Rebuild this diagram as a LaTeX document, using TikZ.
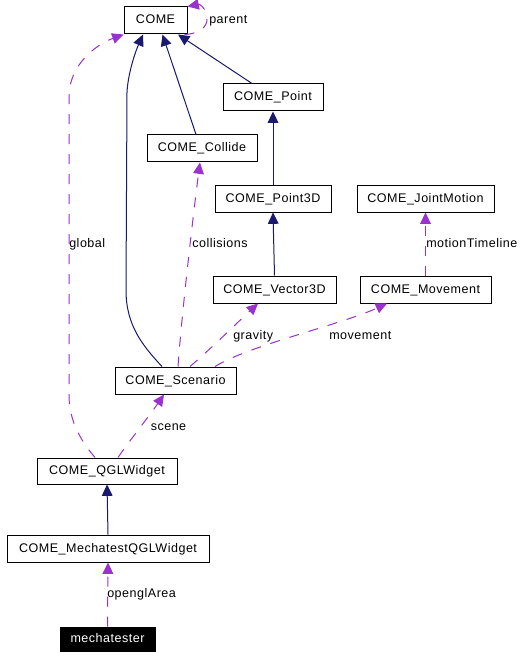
\documentclass[tikz,border=0pt]{standalone}
\usepackage{fontspec}
\setmainfont{Liberation Sans}[LetterSpace=4]
\usetikzlibrary{arrows.meta,calc}
\definecolor{inhcol}{HTML}{191970}
\definecolor{usecol}{HTML}{9A32CD}
\begin{document}
\begin{tikzpicture}[x=0.75pt,y=-0.75pt,
  every node/.style={font=\fontsize{9.4pt}{11pt}\selectfont},
  cls/.style n args={2}{draw=black, line width=0.75pt, fill=white, inner sep=0pt,
    minimum width=#1*0.75pt, minimum height=#2*0.75pt, text height=6.75pt, text depth=1.5pt},
  inh/.style={draw=inhcol, line width=0.75pt, -{Triangle[length=8.5pt,width=8pt]}},
  use/.style={draw=usecol, line width=0.75pt, dash pattern=on 7.5pt off 7.5pt,
    -{Triangle[length=8.5pt,width=8pt]}},
  lbl/.style={anchor=base west, inner sep=0pt}]
\useasboundingbox (0,0) rectangle (529,659);
\fill[white] (0,0) rectangle (529,659);
% nodes
\node[cls={63}{27}] (come) at (155.5,20.5) {COME};
\node[cls={100}{27}] (pt) at (273,97.5) {COME\_Point};
\node[cls={110}{27}] (col) at (202,148.5) {COME\_Collide};
\node[cls={116}{26}] (p3) at (273,199) {COME\_Point3D};
\node[cls={137}{26}] (jm) at (425.5,199) {COME\_JointMotion};
\node[cls={123}{27}] (vec) at (274.5,289.5) {COME\_Vector3D};
\node[cls={131}{27}] (mov) at (425.5,289.5) {COME\_Movement};
\node[cls={121}{27}] (scen) at (175.5,380.5) {COME\_Scenario};
\node[cls={140}{26}] (qgl) at (107,471) {COME\_QGLWidget};
\node[cls={202}{27}] (mech) at (108,548.5) {COME\_MechatestQGLWidget};
\node[cls={95}{24}, fill=black, text=white] (mt) at (107.5,639) {mechatester};
% inheritance
\draw[inh] ($(pt.north)+(-21,0)$) -- ($(come.south)+(22.5,0)$);
\draw[inh] ($(col.north)+(-6,0)$) -- ($(come.south)+(7,0)$);
\draw[inh] ($(scen.north)+(-13.5,0)$) .. controls (142,345) and (126,325) .. (126,290)
   -- (127,92) .. controls (128,75) and (134,55) .. ($(come.south)+(-12.5,0)$);
\draw[inh] (p3.north) -- (pt.south);
\draw[inh] (vec.north) -- (p3.south);
\draw[inh] (mech.north) -- (qgl.south);
% usage
\draw[use] ($(come.south east)+(-3,0)$) .. controls (197,34) and (208,28) .. (207,18)
   .. controls (206,8) and (200,4) .. (come.north east);
\node[lbl] (lparent) at (209,23.5) {parent};
\draw[use] ($(qgl.north)+(-12,0)$) .. controls (80,440) and (69,420) .. (69,395)
   -- (69,95) .. controls (70,65) and (95,45) .. (come.south west);
\node[lbl] (lglobal) at (69,247) {global};
\draw[use] ($(scen.north)+(2.5,0)$) .. controls (182,310) and (195,200) .. ($(col.south)+(-2,0)$);
\node[lbl] (lcoll) at (192,247) {collisions};
\draw[use] ($(scen.north)+(14.5,0)$) .. controls (215,345) and (240,320) .. ($(vec.south)+(-16.5,0)$);
\node[lbl] (lgrav) at (233,339) {gravity};
\draw[use] ($(scen.north)+(39.5,0)$) .. controls (250,345) and (340,325) .. ($(mov.south)+(-38.5,0)$);
\node[lbl] (lmov) at (329,339) {movement};
\draw[use] (mov.north) -- (jm.south);
\node[lbl] (lmt) at (426,247) {motionTimeline};
\draw[use] ($(qgl.north)+(11,0)$) .. controls (130,440) and (150,415) .. ($(scen.south)+(-11.5,0)$);
\node[lbl] (lscene) at (150.5,430) {scene};
\draw[use] (mt.north) -- (mech.south);
\node[lbl] (lgl) at (107,597) {openglArea};
\end{tikzpicture}
\end{document}
